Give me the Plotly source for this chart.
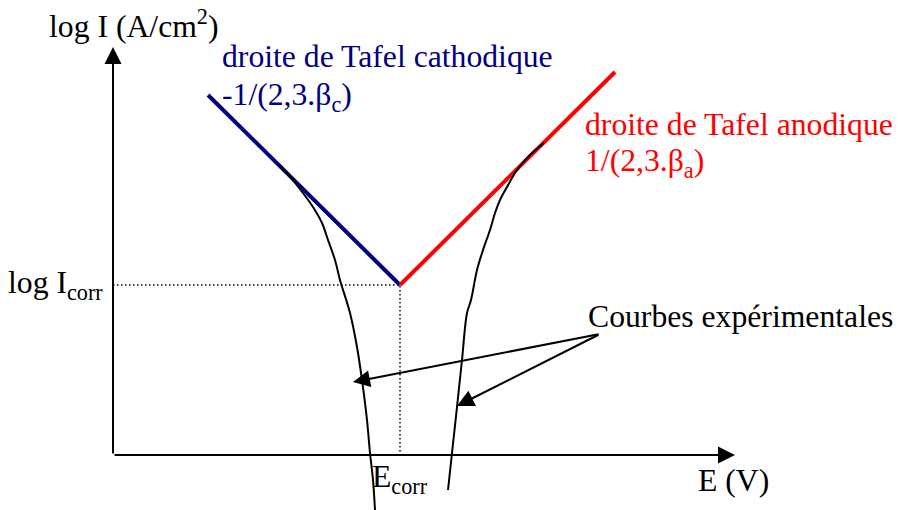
import plotly.graph_objects as go

# Tafel diagram: log I versus E around the corrosion potential (arbitrary units)
E_corr = 2.87
logI_corr = 1.70

# axis extents (arrow tips)
E_axis_max = 6.22
logI_axis_max = 4.08

# Tafel straight lines
cath_E = [0.95, 2.87]
cath_logI = [3.60, 1.70]
anod_E = [2.87, 5.02]
anod_logI = [1.70, 3.83]

# experimental polarisation curves
exp_cath_E = [1.67, 1.80, 1.90, 2.00, 2.09, 2.15, 2.22, 2.27, 2.37, 2.44, 2.49, 2.54, 2.57, 2.60, 2.62]
exp_cath_logI = [2.90, 2.75, 2.62, 2.48, 2.32, 2.15, 1.95, 1.75, 1.42, 1.08, 0.75, 0.35, 0.02, -0.25, -0.55]
exp_anod_E = [4.31, 4.17, 4.04, 3.94, 3.87, 3.82, 3.77, 3.70, 3.64, 3.58, 3.54, 3.49, 3.44, 3.39, 3.35]
exp_anod_logI = [3.12, 3.00, 2.85, 2.68, 2.55, 2.42, 2.25, 2.05, 1.85, 1.55, 1.42, 0.95, 0.48, 0.02, -0.35]

# pointer from the "Courbes expérimentales" caption to each curve
pointer_from = (4.87, 1.21)
pointer_to_E = [2.40, 3.44]
pointer_to_logI = [0.73, 0.49]

NAVY = "#000080"
RED = "#FF0000"
FONT = "Liberation Serif"
FS = 31.7

fig = go.Figure()

# dotted guides to (E_corr, log I_corr)
fig.add_trace(go.Scatter(
    x=[0, E_corr, E_corr], y=[logI_corr, logI_corr, 0],
    mode="lines", line=dict(color="black", width=1.5, dash="1.5px,2.5px"),
    hoverinfo="skip", showlegend=False))

fig.add_trace(go.Scatter(x=cath_E, y=cath_logI, mode="lines",
                         line=dict(color=NAVY, width=4), showlegend=False))
fig.add_trace(go.Scatter(x=anod_E, y=anod_logI, mode="lines",
                         line=dict(color=RED, width=4), showlegend=False))

fig.add_trace(go.Scatter(x=exp_cath_E, y=exp_cath_logI, mode="lines",
                         line=dict(color="black", width=2, shape="spline"), showlegend=False))
fig.add_trace(go.Scatter(x=exp_anod_E, y=exp_anod_logI, mode="lines",
                         line=dict(color="black", width=2, shape="spline"), showlegend=False))

annotations = []


def arrow(x0, y0, x1, y1):
    """Straight black line from (x0, y0) ending in a filled arrowhead at (x1, y1)."""
    annotations.append(dict(
        x=x1, y=y1, ax=x0, ay=y0, xref="x", yref="y", axref="x", ayref="y",
        text="", showarrow=True, arrowhead=2, arrowsize=1.7, arrowwidth=2,
        arrowcolor="black", standoff=0, startstandoff=0))


# axes drawn as arrows from the origin
arrow(0, 0, E_axis_max, 0)
arrow(0, 0, 0, logI_axis_max)

for xe, ye in zip(pointer_to_E, pointer_to_logI):
    arrow(pointer_from[0], pointer_from[1], xe, ye)


def label(text, x, y, color="black", xanchor="left"):
    annotations.append(dict(
        x=x, y=y, xref="x", yref="y", text=text, showarrow=False,
        xanchor=xanchor, yanchor="middle",
        font=dict(family=FONT, size=FS, color=color)))


label("log I (A/cm<sup>2</sup>)", -0.66, 4.31)
label("droite de Tafel cathodique", 1.07, 3.99, NAVY)
label("-1/(2,3.β<sub>c</sub>)", 1.07, 3.58, NAVY)
label("droite de Tafel anodique", 4.70, 3.31, RED)
label("1/(2,3.β<sub>a</sub>)", 4.70, 2.92, RED)
label("log I<sub>corr</sub>", -0.08, logI_corr, xanchor="right")
label("E<sub>corr</sub>", E_corr, -0.24, xanchor="center")
label("E (V)", 5.83, -0.25)
label("Courbes expérimentales", 4.73, 1.39)

fig.update_layout(
    width=902, height=510,
    margin=dict(l=0, r=0, t=0, b=0),
    paper_bgcolor="white", plot_bgcolor="white",
    xaxis=dict(range=[-1.13, 7.89], visible=False, fixedrange=True),
    yaxis=dict(range=[-0.55, 4.55], visible=False, fixedrange=True),
    annotations=annotations,
    showlegend=False,
)

fig.write_html("out.html")
